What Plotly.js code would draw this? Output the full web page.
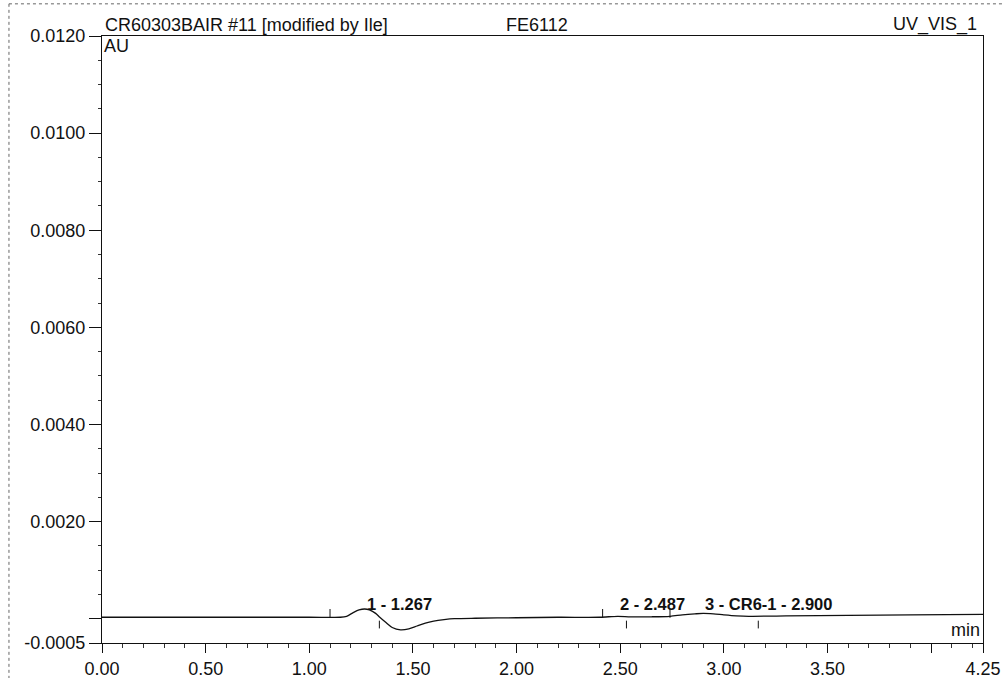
<!DOCTYPE html>
<html>
<head>
<meta charset="utf-8">
<script src="https://cdn.plot.ly/plotly-3.0.1.min.js"></script>
<style>html,body{margin:0;padding:0;background:#fff;}#chart{width:1003px;height:678px;}</style>
</head>
<body>
<div id="chart"></div>
<script>
// ---- data ----
const timeMin = [0.00, 0.50, 1.00, 1.15, 1.18, 1.21, 1.24, 1.267, 1.29, 1.32, 1.34, 1.37, 1.40, 1.44, 1.48, 1.52, 1.56, 1.60, 1.65, 1.70, 1.80, 2.00, 2.20, 2.40, 2.487, 2.55, 2.65, 2.74, 2.80, 2.86, 2.90, 2.95, 3.00, 3.06, 3.12, 3.30, 3.60, 3.90, 4.25];
const signalAU = [0.00003, 0.00003, 0.00003, 0.00003, 0.00005, 0.00012, 0.00018, 0.00020, 0.00018, 0.00011, 0.00003, -0.00008, -0.00018, -0.00023, -0.00021, -0.00015, -0.00009, -0.00005, -0.00002, 0.00000, 0.00001, 0.00002, 0.00003, 0.00003, 0.00005, 0.00004, 0.00004, 0.00005, 0.00008, 0.00010, 0.00011, 0.00010, 0.00008, 0.00006, 0.00005, 0.00006, 0.00007, 0.00008, 0.00009];

const peakTimes = [1.267, 2.487, 2.900];
const peakLabels = ["1 - 1.267", "2 - 2.487", "3 - CR6-1 - 2.900"];

const markTimes = [1.10, 1.338, 2.415, 2.53, 2.74, 3.166];
const markSide = ["up", "down", "up", "down", "up", "down"];

const xTickVals = [0, 0.5, 1.0, 1.5, 2.0, 2.5, 3.0, 3.5, 4.0, 4.25];
const xTickText = ["0.00", "0.50", "1.00", "1.50", "2.00", "2.50", "3.00", "3.50", "", "4.25"];
const yTickVals = [-0.0005, 0, 0.002, 0.004, 0.006, 0.008, 0.010, 0.012];
const yTickText = ["-0.0005", "", "0.0020", "0.0040", "0.0060", "0.0080", "0.0100", "0.0120"];

const headerLeft = "CR60303BAIR #11 [modified by Ile]";
const headerMid = "FE6112";
const headerRight = "UV_VIS_1";

// ---- build ----
const FONT = "Liberation Sans, Arial, sans-serif";
const markX = [], markY = [];
markTimes.forEach((t, i) => {
  markX.push(t, t, null);
  if (markSide[i] === "up") markY.push(0.00002, 0.00020, null);
  else markY.push(-0.00004, -0.00020, null);
});

const traces = [
  {x: timeMin, y: signalAU, type: "scatter", mode: "lines",
   line: {color: "#111", width: 1.3, shape: "spline", smoothing: 0.8}, hoverinfo: "skip"},
  {x: markX, y: markY, type: "scatter", mode: "lines",
   line: {color: "#111", width: 1}, hoverinfo: "skip"}
];

const annotations = peakTimes.map((t, i) => ({
  x: t, y: 0.00031, xref: "x", yref: "y", text: "<b>" + peakLabels[i] + "</b>",
  showarrow: false, xanchor: "left", yanchor: "middle",
  font: {family: FONT, size: 16.5, color: "#111"}
}));
annotations.push(
  {x: 0, y: 1, xref: "paper", yref: "paper", text: headerLeft, showarrow: false,
   xanchor: "left", yanchor: "bottom", xshift: 1, yshift: -1, font: {family: FONT, size: 18, color: "#111"}},
  {x: 0.4568, y: 1, xref: "paper", yref: "paper", text: headerMid, showarrow: false,
   xanchor: "left", yanchor: "bottom", yshift: -1, font: {family: FONT, size: 18, color: "#111"}},
  {x: 1, y: 1, xref: "paper", yref: "paper", text: headerRight, showarrow: false,
   xanchor: "right", yanchor: "bottom", xshift: -4, yshift: -1, font: {family: FONT, size: 18, color: "#111"}},
  {x: 0, y: 1, xref: "paper", yref: "paper", text: "AU", showarrow: false,
   xanchor: "left", yanchor: "top", xshift: 0, yshift: 2, font: {family: FONT, size: 18, color: "#111"}},
  {x: 1, y: 0, xref: "paper", yref: "paper", text: "min", showarrow: false,
   xanchor: "right", yanchor: "bottom", xshift: -1, yshift: 1, font: {family: FONT, size: 18, color: "#111"}}
);

const layout = {
  width: 1003, height: 678,
  margin: {l: 102, r: 20, t: 36, b: 35},
  paper_bgcolor: "#fff", plot_bgcolor: "#fff",
  showlegend: false,
  font: {family: FONT, size: 18, color: "#111"},
  xaxis: {
    range: [0, 4.25], showgrid: false, zeroline: false,
    showline: true, linecolor: "#111", linewidth: 1, mirror: true,
    tickmode: "array", tickvals: xTickVals, ticktext: xTickText,
    ticks: "outside", ticklen: 9, tickcolor: "#111", tickwidth: 1,
    tickfont: {family: FONT, size: 18, color: "#111"},
    minor: {tickmode: "linear", tick0: 0, dtick: 0.1, ticks: "outside", ticklen: 4, tickcolor: "#333", showgrid: false}
  },
  yaxis: {
    range: [-0.0005, 0.0120], showgrid: false, zeroline: false,
    showline: true, linecolor: "#111", linewidth: 1, mirror: true,
    tickmode: "array", tickvals: yTickVals, ticktext: yTickText,
    ticks: "outside", ticklen: 12, tickcolor: "#111", tickwidth: 1,
    tickfont: {family: FONT, size: 18, color: "#111"},
    minor: {tickmode: "linear", tick0: 0, dtick: 0.0005, ticks: "outside", ticklen: 3, tickcolor: "#333", showgrid: false}
  },
  annotations: annotations,
  shapes: [
    {type: "line", xref: "paper", yref: "paper", x0: -0.1056, x1: 1.03, y0: 1.053, y1: 1.053, line: {color: "#666", width: 1, dash: "dot"}},
    {type: "line", xref: "paper", yref: "paper", x0: -0.1056, x1: -0.1056, y0: 1.053, y1: -0.06, line: {color: "#666", width: 1, dash: "dot"}}
  ]
};

Plotly.newPlot("chart", traces, layout, {displayModeBar: false, staticPlot: true});
</script>
</body>
</html>
